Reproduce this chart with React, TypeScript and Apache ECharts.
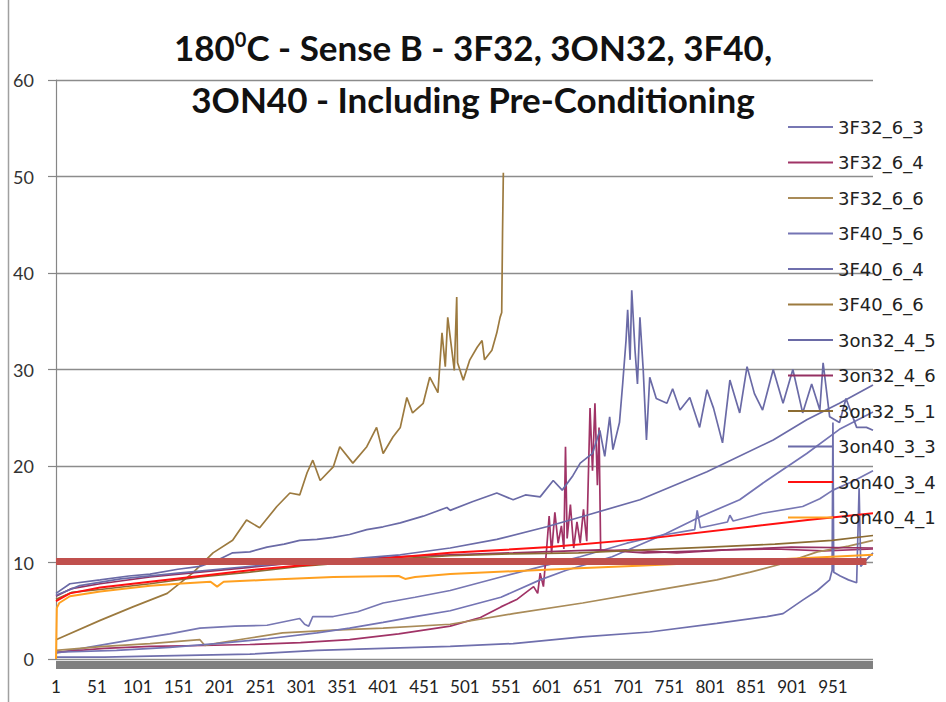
import React, { useEffect, useRef } from "react";
import * as echarts from "echarts";

const seriesNames = [
  "3F32_6_3", "3F32_6_4", "3F32_6_6", "3F40_5_6", "3F40_6_4", "3F40_6_6",
  "3on32_4_5", "3on32_4_6", "3on32_5_1", "3on40_3_3", "3on40_3_4", "3on40_4_1",
];
const seriesColors = [
  "#7777B3", "#A03366", "#A98B58", "#7474B4", "#6F6FAD", "#9C7A3F",
  "#6A6AA6", "#953062", "#8C6C33", "#6B6BA8", "#FF1010", "#FFA020",
];
const xTickLabels = ["1","51","101","151","201","251","301","351","401","451","501","551","601","651","701","751","801","851","901","951"];
const yTicks = [0, 10, 20, 30, 40, 50, 60];

// [category, value]
const d3F32_6_3 = [[1,0.6],[40,1.2],[95,2.0],[140,2.6],[177,3.2],[220,3.4],[259,3.5],[299,4.2],[305,3.6],[310,3.4],[315,4.4],[340,4.4],[370,4.9],[401,5.8],[440,6.4],[483,7.1],[545,8.5],[600,9.7],[642,10.6],[699,12.0],[740,12.8],[782,13.4],[785,15.4],[789,13.6],[822,14.2],[825,14.9],[829,14.3],[865,15.1],[914,15.8],[935,16.6],[951,17.5],[975,18.4],[1000,19.5]];
const d3F32_6_4 = [[1,0.7],[60,1.1],[116,1.3],[180,1.4],[238,1.5],[300,1.7],[360,2.0],[420,2.6],[483,3.4],[520,4.3],[545,5.4],[565,6.2],[585,7.5],[590,6.8],[593,8.9],[597,7.5],[601,11.5],[604,14.8],[607,11.0],[611,15.2],[615,12.0],[619,13.8],[622,11.4],[624,22.0],[626,12.5],[630,16.0],[634,11.5],[638,14.2],[642,12.0],[646,15.5],[650,12.2],[654,26.0],[657,19.5],[660,26.5],[663,18.0],[665,24.0],[667,11.2],[700,11.3],[760,11.0],[820,11.3],[880,11.4],[940,11.2],[1000,11.4]];
const d3F32_6_6 = [[1,0.9],[60,1.3],[116,1.6],[177,2.0],[183,1.4],[195,1.6],[240,2.2],[278,2.7],[340,3.0],[401,3.2],[483,3.6],[560,4.7],[645,5.8],[727,7.0],[809,8.2],[850,9.0],[890,9.9],[932,11.1],[970,11.7],[1000,12.3]];
const d3F40_5_6 = [[1,0.7],[75,0.9],[140,1.2],[197,1.6],[260,2.1],[320,2.7],[360,3.2],[401,3.8],[440,4.4],[483,5.0],[545,6.4],[593,8.2],[625,9.2],[681,10.6],[747,13.0],[790,14.8],[837,16.5],[870,18.5],[919,21.3],[959,23.8],[1000,25.6]];
const d3F40_6_4 = [[1,0.2],[60,0.2],[116,0.3],[238,0.5],[320,0.9],[401,1.1],[483,1.3],[560,1.6],[645,2.3],[727,2.8],[809,3.7],[870,4.4],[890,4.7],[914,6.1],[932,7.1],[947,8.2],[950,9.2],[951,24.5],[952,9.0],[960,8.6],[970,8.2],[980,7.9],[983,17.7],[985,9.6],[992,10.3],[1000,11.0]];
const d3F40_6_6 = [[1,2.0],[55,4.0],[95,5.4],[137,6.8],[168,8.9],[193,11.0],[217,12.3],[234,14.4],[250,13.6],[271,15.8],[287,17.2],[299,17.0],[308,19.3],[315,20.6],[324,18.5],[340,19.9],[348,22.0],[364,20.3],[381,22.0],[393,24.0],[401,21.3],[413,23.0],[422,24.0],[430,27.1],[437,25.5],[450,26.5],[458,29.2],[468,27.6],[473,33.8],[477,30.3],[480,35.4],[485,32.0],[488,29.9],[491,37.5],[492,30.7],[499,28.9],[507,31.0],[516,32.3],[522,33.0],[525,31.0],[534,32.0],[540,33.8],[544,35.4],[546,35.9],[547,44.1],[548,50.4]];
const d3on32_4_5 = [[1,6.8],[18,7.8],[55,8.2],[90,8.6],[116,8.8],[150,9.3],[177,9.6],[200,10.3],[217,11.0],[238,11.1],[259,11.6],[280,11.9],[299,12.3],[320,12.4],[340,12.6],[360,12.9],[381,13.4],[401,13.7],[422,14.1],[450,14.8],[479,15.7],[483,15.4],[510,16.3],[540,17.2],[560,16.5],[575,17.0],[593,16.8],[609,18.5],[620,17.5],[633,19.0],[642,20.3],[657,21.3],[666,23.7],[672,21.0],[678,25.1],[682,21.7],[690,24.5],[694,28.6],[698,33.0],[700,36.2],[703,31.0],[705,38.2],[709,32.0],[712,28.5],[715,35.4],[719,30.0],[723,22.7],[727,29.2],[735,27.0],[748,26.5],[755,28.0],[764,25.8],[776,27.1],[788,24.0],[797,27.9],[805,26.0],[816,22.4],[825,28.9],[837,25.5],[846,30.3],[855,27.5],[865,25.8],[878,30.0],[890,26.5],[902,30.0],[914,25.5],[925,28.5],[935,25.8],[939,30.7],[947,25.1],[959,24.5],[967,27.0],[980,24.0],[992,24.0],[1000,23.7]];
const d3on32_4_6 = [[1,6.5],[20,7.3],[55,7.8],[116,8.5],[177,9.0],[238,9.5],[299,10.0],[381,10.4],[422,10.6],[483,10.8],[560,11.0],[666,11.3],[720,11.0],[790,11.2],[900,11.6],[1000,11.5]];
const d3on32_5_1 = [[1,6.2],[20,6.9],[55,7.2],[116,7.8],[177,8.5],[238,9.0],[299,9.6],[360,10.0],[422,10.4],[483,10.7],[560,10.9],[640,11.0],[720,11.3],[800,11.6],[880,11.9],[950,12.3],[1000,12.8]];
const d3on40_3_3 = [[1,6.6],[30,7.6],[80,8.3],[150,8.9],[250,9.7],[350,10.3],[422,10.8],[483,11.5],[540,12.4],[601,13.7],[650,14.9],[715,16.5],[797,19.4],[878,22.7],[919,24.8],[959,26.5],[1000,28.4]];
const d3on40_3_4 = [[1,6.0],[18,6.8],[55,7.4],[116,8.0],[177,8.6],[238,9.2],[299,9.7],[360,10.1],[483,11.0],[605,11.6],[727,12.5],[849,13.7],[920,14.4],[1000,15.1]];
const d3on40_4_1 = [[1,0],[2,5.3],[5,5.8],[18,6.5],[55,7.0],[116,7.6],[150,7.8],[190,8.0],[198,7.5],[206,8.0],[259,8.2],[340,8.5],[420,8.6],[428,8.3],[440,8.5],[483,8.8],[560,9.1],[640,9.4],[720,9.7],[800,10.0],[880,10.3],[950,10.6],[1000,10.8]];

const seriesData = [
  d3F32_6_3, d3F32_6_4, d3F32_6_6, d3F40_5_6, d3F40_6_4, d3F40_6_6,
  d3on32_4_5, d3on32_4_6, d3on32_5_1, d3on40_3_3, d3on40_3_4, d3on40_4_1,
];

const limitCats = [1, 992];
const limitValues = [10.1, 10.1];

const FONT = "Lato, 'Open Sans', sans-serif";
const NARROW = "'Liberation Sans Narrow', Lato, sans-serif";
const WIDE = "'DejaVu Sans', Lato, sans-serif";

export default function App() {
  const ref = useRef<HTMLDivElement>(null);
  useEffect(() => {
    document.body.style.margin = "0";
    if (!ref.current) return;
    const chart = echarts.init(ref.current, null, { renderer: "svg" });
    const lineSeries = seriesNames.map((name, i) => ({
      name,
      type: "line",
      symbol: "none",
      color: seriesColors[i],
      lineStyle: { color: seriesColors[i], width: i >= 10 ? 2 : 1.7 },
      data: seriesData[i].map(([c, v]) => [c - 1, v]),
    }));
    const limitSeries = {
      name: "limit",
      type: "line",
      symbol: "none",
      z: 4,
      color: "#C0504D",
      lineStyle: { color: "#C0504D", width: 7, cap: "butt" },
      data: limitCats.map((c, i) => [c - 1, limitValues[i]]),
    };
    chart.setOption({
      animation: false,
      backgroundColor: "#ffffff",
      title: {
        text: "180{sup|0}C - Sense B - 3F32, 3ON32, 3F40,\n3ON40 - Including Pre-Conditioning",
        left: "center",
        top: 16,
        textStyle: {
          fontFamily: FONT,
          fontWeight: "bold",
          fontSize: 35,
          lineHeight: 52,
          color: "#111111",
          rich: {
            sup: { fontFamily: FONT, fontWeight: "bold", fontSize: 20, color: "#111111", padding: [0, 0, 16, 0] },
          },
        },
      },
      legend: {
        orient: "vertical",
        left: 783,
        top: 112,
        icon: "rect",
        itemWidth: 45,
        itemHeight: 2,
        itemGap: 15.5,
        data: seriesNames,
        textStyle: { fontFamily: WIDE, fontSize: 18, lineHeight: 20, color: "#222222" },
      },
      grid: { left: 56, right: 73, top: 80, bottom: 43, containLabel: false },
      xAxis: {
        type: "value",
        min: 0,
        max: 999,
        interval: 50,
        offset: 5.5,
        axisLine: { show: true, onZero: false, lineStyle: { color: "#808080", width: 8, cap: "butt" } },
        axisTick: { show: false },
        splitLine: { show: false },
        axisLabel: {
          margin: 13,
          fontFamily: NARROW,
          fontSize: 17,
          color: "#222222",
          formatter: (v: number) => {
            const k = v / 50;
            return Number.isInteger(k) && k < xTickLabels.length ? xTickLabels[k] : "";
          },
        },
      },
      yAxis: {
        type: "value",
        min: yTicks[0],
        max: yTicks[yTicks.length - 1],
        interval: 10,
        axisLine: { show: true, lineStyle: { color: "#868686", width: 1.2 } },
        axisTick: { show: true, length: 8, lineStyle: { color: "#868686", width: 1.2 } },
        splitLine: { show: true, lineStyle: { color: "#8C8C8C", width: 1.3 } },
        axisLabel: { margin: 22, fontFamily: FONT, fontSize: 18, color: "#333333" },
      },
      graphic: [
        { type: "line", shape: { x1: 8.5, y1: 0, x2: 8.5, y2: 702 }, style: { stroke: "#A0A0A0", lineWidth: 1.5 } },
      ],
      series: [...lineSeries, limitSeries],
    });
    return () => chart.dispose();
  }, []);
  return <div ref={ref} style={{ width: 946, height: 702 }} />;
}
